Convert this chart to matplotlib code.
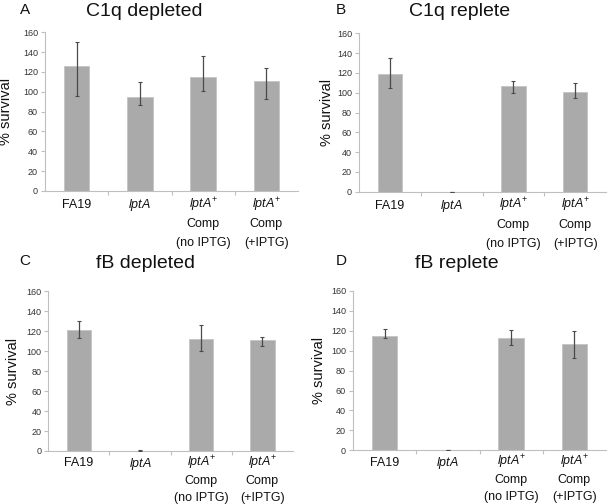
import matplotlib
matplotlib.use("Agg")
import matplotlib.pyplot as plt
import matplotlib.transforms as mtransforms

plt.rcParams['font.family'] = ['Liberation Sans', 'DejaVu Sans']
plt.rcParams['mathtext.fontset'] = 'custom'
plt.rcParams['mathtext.rm'] = 'Liberation Sans'
plt.rcParams['mathtext.it'] = 'Liberation Sans:italic'

# categories (x labels), one list of lines per bar
categories = [
    ["FA19"],
    [r"$\mathit{lptA}$"],
    [r"$\mathit{lptA}^{+}$", "Comp", "(no IPTG)"],
    [r"$\mathit{lptA}^{+}$", "Comp", "(+IPTG)"],
]

panel_letters = ["A", "B", "C", "D"]
panel_titles = ["C1q depleted", "C1q replete", "fB depleted", "fB replete"]

# % survival
c1q_depl = [126, 95, 115, 111]
c1q_depl_lo = [30, 8.5, 14.5, 18.5]
c1q_depl_hi = [24, 15, 21, 13.5]

c1q_repl = [118.5, 0, 107, 100.5]
c1q_repl_lo = [14, 0, 7.5, 6]
c1q_repl_hi = [17, 0, 4.5, 9]

fb_depl = [121.5, 0.3, 112.5, 111]
fb_depl_lo = [8.5, 0.3, 12, 6]
fb_depl_hi = [8.5, 1.2, 14, 3.5]

fb_repl = [115, 0.3, 113, 107]
fb_repl_lo = [2.5, 0.3, 7, 14.5]
fb_repl_hi = [6.5, 0.5, 7.5, 12.5]

panels = [
    (c1q_depl, c1q_depl_lo, c1q_depl_hi),
    (c1q_repl, c1q_repl_lo, c1q_repl_hi),
    (fb_depl, fb_depl_lo, fb_depl_hi),
    (fb_repl, fb_repl_lo, fb_repl_hi),
]

W, H = 608, 504
fig = plt.figure(figsize=(W / 100, H / 100), dpi=100)

# axes boxes in pixels: left, right, top, bottom
boxes = [(45, 298, 32.3, 191), (359, 606, 33.3, 191.7),
         (48.3, 293, 291.3, 451), (353, 606, 291, 450.3)]
letter_pos = [(25, 10), (341, 10), (25, 261), (341, 261)]
title_pos = [(144, 11.5), (460, 11.5), (146, 263.5), (457, 263.5)]
ylabel_x = [6, 327, 13, 319]
# baseline of first label line / line step, px below the axis
label_lines = [(17, 19), (17, 19), (15.5, 17.2), (15.5, 17.2)]

axis_col = '#bfbfbf'
for i, (vals, lo, hi) in enumerate(panels):
    l, r, t, b = boxes[i]
    ax = fig.add_axes([l / W, 1 - b / H, (r - l) / W, (b - t) / H])
    x = range(len(categories))
    ax.bar(x, vals, width=0.4, color='#aaaaaa', edgecolor='#c4c4c4', linewidth=0.6, zorder=2)
    ax.errorbar(x, vals, yerr=[lo, hi], fmt='none', ecolor='#4a4a4a',
                elinewidth=0.9, capsize=1.5, capthick=0.8, zorder=3)
    ax.set_ylim(0, 160)
    ax.set_xlim(-0.5, 3.5)
    ax.set_yticks(range(0, 161, 20))
    ax.set_xticks(list(x))
    ax.set_xticklabels([])
    ax.set_xticks([0.5, 1.5, 2.5], minor=True)
    ax.tick_params(axis='x', which='major', length=0)
    ax.tick_params(axis='x', which='minor', length=3, color=axis_col, width=0.8)
    ax.tick_params(axis='y', length=3, color=axis_col, width=0.8, labelsize=6.5,
                   labelcolor='#333333', pad=2)
    for s in ['top', 'right']:
        ax.spines[s].set_visible(False)
    for s in ['left', 'bottom']:
        ax.spines[s].set_color(axis_col)
        ax.spines[s].set_linewidth(0.8)

    # category labels, line by line with even spacing
    first, step = label_lines[i]
    base = mtransforms.blended_transform_factory(ax.transData, ax.transAxes)
    for xi, lines in zip(x, categories):
        for k, line in enumerate(lines):
            off = mtransforms.ScaledTranslation(0, -(first + step * k) / 100, fig.dpi_scale_trans)
            ax.text(xi, 0, line, transform=base + off, ha='center', va='baseline',
                    fontsize=9, color='#111111', clip_on=False)

    fig.text(ylabel_x[i] / W, 1 - ((t + b) / 2) / H, "% survival", rotation=90,
             fontsize=10.5, ha='center', va='center', color='#111111')
    fig.text(letter_pos[i][0] / W, 1 - letter_pos[i][1] / H, panel_letters[i],
             fontsize=11, ha='center', va='center', color='#111111')
    fig.text(title_pos[i][0] / W, 1 - title_pos[i][1] / H, panel_titles[i],
             fontsize=14, ha='center', va='center', color='#111111')

fig.savefig("out.png", dpi=100)
